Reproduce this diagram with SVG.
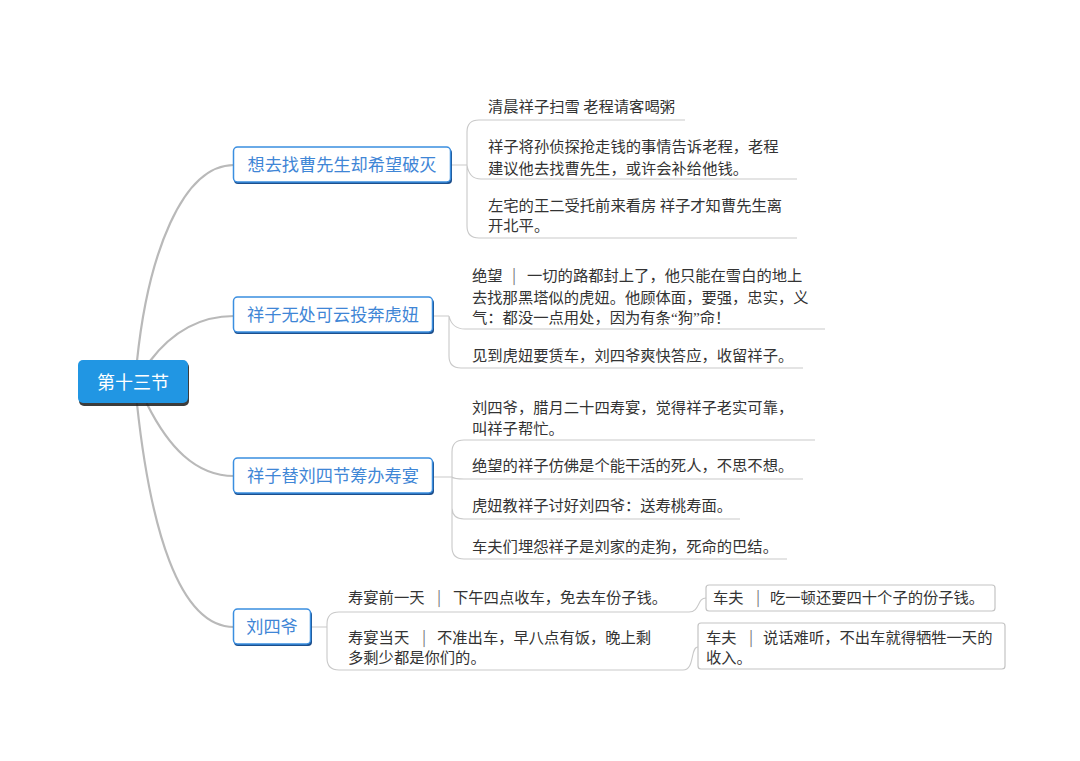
<svg xmlns="http://www.w3.org/2000/svg" width="1080" height="761" viewBox="0 0 1080 761">
<style>
.main{fill:none;stroke:#b9b9b9;stroke-width:2.2;stroke-linecap:round}
.sub{fill:none;stroke:#c9c9c9;stroke-width:1.1}
.nshadow{fill:#1d4f8c}
.nbox{fill:#fff;stroke:#3a8ee0;stroke-width:1.5}
.ntext{font-family:"Noto Sans CJK SC",sans-serif;font-size:17.2px;fill:#3f86d6;text-anchor:middle}
.t{font-family:"Noto Sans CJK SC",sans-serif;font-size:15.3px;fill:#333}
.bar{fill:#777}
.q{font-family:"Liberation Serif",serif}
.cbox{fill:#fff;stroke:#c4c4c4;stroke-width:1.2}
</style>
<rect width="1080" height="761" fill="#fff"/>
<g id="connectors">
<path class="main" d="M137,361 C148,255 182,165 234,165"/>
<path class="main" d="M150,361 C172,332 200,316 234,316"/>
<path class="main" d="M147,404 C168,446 195,476 234,476"/>
<path class="main" d="M137,404 C150,525 178,627 234,627"/>
<path class="sub" d="M451,165 H467 M467,165 V132 Q467,120 479,120 H685 M467,165 V226 Q467,238 479,238 H797 M467,165 Q469,179 481,179 H797"/>
<path class="sub" d="M433,316 H449 M449,316 Q452,329 465,329 H825 M449,316 V356 Q449,368 461,368 H803"/>
<path class="sub" d="M433,477 H452 M452,477 V452 Q452,440 464,440 H815 M452,477 Q454,479 464,479 H803 M452,477 V507 Q452,519 464,519 H740 M452,477 V547 Q452,559 464,559 H787"/>
<path class="sub" d="M311,627 H327 M327,627 V624 Q327,612 339,612 H689 M327,627 V658 Q327,670 339,670 H683"/>
<path class="sub" d="M689,612 C700,612 697,598 706,598"/>
<path class="sub" d="M683,670 C695,670 690,647 698,647"/>
</g>
<g id="root">
<rect x="79" y="362" width="110" height="44" rx="5" fill="#1a1a1a" opacity="0.85"/>
<rect x="78" y="360" width="110" height="43" rx="5" fill="#2196e3"/>
<text x="133" y="389" style="font-family:'Noto Sans CJK SC',sans-serif;font-size:18px;fill:#fff;text-anchor:middle">第十三节</text>
</g>
<g id="n1">
<rect class="nshadow" x="234" y="149" width="218" height="35" rx="4"/>
<rect class="nbox" x="233.5" y="147" width="217" height="35" rx="4"/>
<text class="ntext" x="342" y="171">想去找曹先生却希望破灭</text>
</g>
<g id="n1c1"><text class="t" x="488" y="112">清晨祥子扫雪 老程请客喝粥</text></g>
<g id="n1c2"><text class="t" x="488" y="152">祥子将孙侦探抢走钱的事情告诉老程，老程</text><text class="t" x="488" y="174">建议他去找曹先生，或许会补给他钱。</text></g>
<g id="n1c3"><text class="t" x="488" y="211">左宅的王二受托前来看房 祥子才知曹先生离</text><text class="t" x="488" y="231">开北平。</text></g>
<g id="n2">
<rect class="nshadow" x="234" y="299" width="200" height="35" rx="4"/>
<rect class="nbox" x="233.5" y="297" width="199" height="35" rx="4"/>
<text class="ntext" x="333" y="321">祥子无处可云投奔虎妞</text>
</g>
<g id="n2c1"><text class="t" x="472" y="281">绝望<tspan class="bar" x="512">|</tspan><tspan x="527">一切的路都封上了，他只能在雪白的地上</tspan></text><text class="t" x="472" y="303">去找那黑塔似的虎妞。他顾体面，要强，忠实，义</text><text class="t" x="472" y="323">气：都没一点用处，因为有条<tspan class="q">“</tspan>狗<tspan class="q">”</tspan>命！</text></g>
<g id="n2c2"><text class="t" x="472" y="361">见到虎妞要赁车，刘四爷爽快答应，收留祥子。</text></g>
<g id="n3">
<rect class="nshadow" x="234" y="460" width="200" height="35" rx="4"/>
<rect class="nbox" x="233.5" y="458" width="199" height="35" rx="4"/>
<text class="ntext" x="333" y="482">祥子替刘四节筹办寿宴</text>
</g>
<g id="n3c1"><text class="t" x="472" y="413">刘四爷，腊月二十四寿宴，觉得祥子老实可靠，</text><text class="t" x="472" y="434">叫祥子帮忙。</text></g>
<g id="n3c2"><text class="t" x="472" y="471">绝望的祥子仿佛是个能干活的死人，不思不想。</text></g>
<g id="n3c3"><text class="t" x="472" y="511">虎妞教祥子讨好刘四爷：送寿桃寿面。</text></g>
<g id="n3c4"><text class="t" x="472" y="552">车夫们埋怨祥子是刘家的走狗，死命的巴结。</text></g>
<g id="n4">
<rect class="nshadow" x="234" y="611" width="78" height="35" rx="4"/>
<rect class="nbox" x="233.5" y="609" width="77" height="35" rx="4"/>
<text class="ntext" x="272" y="633">刘四爷</text>
</g>
<g id="n4c1"><text class="t" x="348" y="603">寿宴前一天<tspan class="bar" x="437">|</tspan><tspan x="453">下午四点收车，免去车份子钱。</tspan></text></g>
<g id="n4c1a">
<rect class="cbox" x="706" y="585" width="289" height="26" rx="3"/>
<text class="t" x="713" y="603">车夫<tspan class="bar" x="756">|</tspan><tspan x="770">吃一顿还要四十个子的份子钱。</tspan></text>
</g>
<g id="n4c2"><text class="t" x="348" y="643">寿宴当天<tspan class="bar" x="422">|</tspan><tspan x="437">不准出车，早八点有饭，晚上剩</tspan></text><text class="t" x="348" y="663">多剩少都是你们的。</text></g>
<g id="n4c2a">
<rect class="cbox" x="698" y="623" width="307" height="46" rx="3"/>
<text class="t" x="706" y="643">车夫<tspan class="bar" x="749">|</tspan><tspan x="763">说话难听，不出车就得牺牲一天的</tspan></text>
<text class="t" x="706" y="663">收入。</text>
</g>
</svg>
